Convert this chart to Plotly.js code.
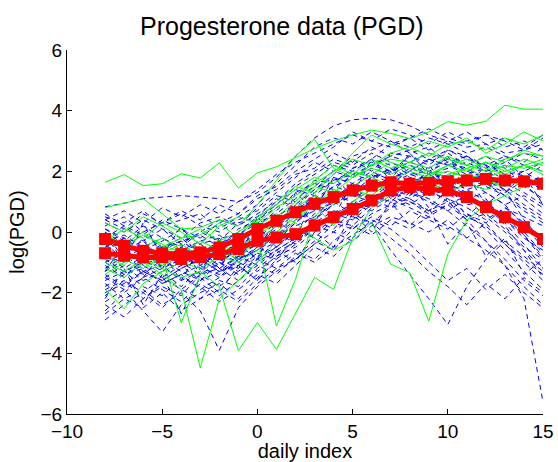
<!DOCTYPE html>
<html>
<head>
<meta charset="utf-8">
<script src="https://cdn.plot.ly/plotly-3.0.1.min.js"></script>
<style>html,body{margin:0;padding:0;background:#fff;}#chart{width:558px;height:462px;}</style>
</head>
<body>
<div id="chart"></div>
<script>
// daily index (x values)
const days = [-8,-7,-6,-5,-4,-3,-2,-1,0,1,2,3,4,5,6,7,8,9,10,11,12,13,14,15];

// nonconceptive cycles (blue dashed), log(PGD)
const blue01 = [0.83,0.95,1.1,1.15,1.2,1.15,1.1,1.0,1.3,1.8,2.5,3.1,3.5,3.7,3.75,3.7,3.5,3.2,3.0,2.8,2.9,2.6,2.7,2.9];
const blue02 = [0.5,0.3,0.7,0.2,0.4,0.6,0.1,0.5,0.9,1.6,2.2,2.8,3.1,2.9,3.3,3.0,2.6,2.8,2.3,2.5,2.1,2.4,1.8,2.2];
const blue03 = [-0.2,-0.6,-0.3,-0.9,-0.5,-0.8,-0.4,-0.1,0.4,0.9,1.5,1.9,2.3,2.1,2.4,2.2,1.9,2.0,1.6,1.2,0.8,0.3,-0.4,-1.2];
const blue04 = [-1.5,-1.1,-1.6,-1.3,-1.8,-1.2,-1.4,-0.9,-0.6,-0.2,0.3,0.8,1.2,1.0,1.4,1.6,1.3,1.1,0.7,0.2,-0.3,-0.9,-1.6,-2.1];
const blue05 = [-2.9,-2.4,-2.0,-2.5,-1.9,-2.2,-1.6,-1.8,-1.2,-0.7,-0.3,0.2,0.6,0.9,0.7,1.1,0.8,0.5,0.9,0.4,0.6,0.1,-0.5,-0.9];
const blue06 = [-0.8,-1.0,-0.6,-1.2,-0.9,-0.7,-1.1,-0.5,-0.3,0.2,0.6,1.3,1.7,1.9,2.2,2.0,2.3,2.1,2.4,2.0,1.8,1.5,1.1,0.6];
const blue07 = [0.1,-0.3,0.2,-0.2,-0.5,0.0,-0.3,0.3,0.5,1.1,0.8,1.4,1.9,2.4,2.0,2.6,2.5,2.2,2.7,2.4,2.2,1.9,2.0,1.6];
const blue08 = [-1.9,-1.6,-2.2,-1.7,-1.4,-1.9,-1.5,-1.1,-1.6,-0.9,-0.4,0.1,0.5,1.0,0.8,1.3,1.5,1.2,1.4,0.9,1.0,0.4,-0.2,-0.6];
const blue09 = [0.6,0.2,-0.1,0.4,0.1,-0.2,0.3,0.6,1.1,1.4,1.9,2.1,2.6,2.3,2.8,2.5,2.7,2.4,2.2,2.5,2.0,2.3,2.6,2.4];
const blue10 = [-1.2,-0.8,-1.4,-0.9,-1.3,-1.6,-1.0,-1.3,-0.8,-0.5,0.1,-0.2,0.4,0.9,1.2,1.0,1.5,1.7,1.3,1.6,1.4,1.8,1.5,1.9];
const blue11 = [-0.4,-0.9,-0.5,-0.7,-1.1,-0.6,-0.8,-0.3,0.2,0.7,1.3,1.6,1.4,1.9,1.7,2.1,1.8,1.6,1.9,1.7,1.3,0.9,0.2,-0.5];
const blue12 = [-1.0,-1.4,-1.2,-1.7,-1.4,-1.1,-1.5,-0.9,-0.6,-0.1,0.4,0.7,1.0,0.6,0.3,-0.6,-1.4,-2.2,-3.05,-1.8,-0.9,-0.3,-0.8,-1.3];
const blue13 = [-0.6,-0.3,-0.8,-0.5,-0.2,-0.7,-0.4,0.0,0.5,0.9,1.4,1.2,1.7,2.0,1.8,2.1,1.6,1.4,1.0,0.4,-0.3,-1.1,-2.2,-5.6];
const blue14 = [-1.7,-2.2,-1.9,-2.4,-2.0,-2.6,-3.9,-2.5,-1.8,-1.3,-0.9,-0.4,0.3,0.1,0.6,0.9,1.1,0.7,1.0,0.5,0.2,-0.4,-1.0,-1.6];
const blue15 = [-2.3,-1.9,-2.6,-3.3,-2.4,-2.0,-1.7,-2.2,-1.5,-1.0,-0.6,-0.9,-0.3,0.2,-0.1,0.4,0.1,0.5,0.2,-0.2,0.3,-0.4,-0.9,-1.4];
const blue16 = [0.3,0.0,0.4,0.1,-0.2,0.3,0.5,0.2,0.8,1.3,1.8,2.3,2.0,2.5,2.7,3.0,2.8,3.1,2.9,2.6,2.8,2.5,2.2,2.0];
const blue17 = [-1.4,-1.8,-1.3,-1.1,-1.6,-1.3,-0.9,-1.2,-0.7,-0.9,-0.2,0.4,0.9,1.3,1.1,1.6,1.9,1.7,2.0,1.8,1.5,1.2,0.7,0.3];
const blue18 = [-0.9,-0.5,-1.1,-0.8,-0.6,-1.0,-0.7,-0.4,-0.9,-0.3,0.3,0.9,1.1,1.6,1.4,1.8,2.0,1.7,1.5,1.8,1.6,1.3,1.7,1.4];
const blue19 = [-2.6,-2.0,-1.5,-1.9,-2.3,-1.7,-2.1,-1.6,-1.1,-1.4,-0.8,-0.3,-0.6,0.1,0.5,0.2,0.7,0.4,0.1,0.6,0.3,0.8,0.5,0.2];
const blue20 = [0.2,0.5,0.0,0.3,0.6,0.2,0.0,0.4,0.7,1.2,1.0,1.7,2.2,2.0,2.4,2.9,3.1,2.7,3.0,3.3,2.9,3.1,2.8,3.2];
const blue21 = [-1.1,-1.5,-0.9,-1.3,-1.0,-1.4,-1.2,-1.6,-1.0,-0.6,-0.2,0.2,0.0,0.5,0.3,0.8,1.0,0.6,0.9,1.2,0.8,0.4,-0.1,-0.8];
const blue22 = [-0.3,-0.1,-0.5,-0.2,-0.6,-0.3,-0.1,-0.6,-0.2,0.3,0.7,1.1,1.5,1.3,1.8,2.0,2.2,1.9,2.1,2.3,2.0,2.2,1.8,1.5];
const blue23 = [-1.6,-1.3,-1.8,-2.1,-1.5,-1.8,-2.3,-1.9,-1.4,-1.7,-1.1,-0.5,-0.8,-0.2,0.4,0.1,-0.4,-1.0,-1.6,-1.2,-1.9,-1.4,-2.0,-2.5];
const blue24 = [0.0,-0.4,-0.1,-0.5,-0.3,-0.1,-0.5,0.1,0.4,0.8,1.2,1.7,1.6,2.1,2.3,2.0,2.5,2.3,2.6,2.2,2.5,2.1,1.6,1.0];
const blue25 = [-0.7,-1.2,-0.8,-0.4,-0.9,-0.5,-0.9,-0.7,-0.4,0.1,0.6,0.4,1.0,1.5,1.9,1.6,2.0,2.4,2.2,1.9,2.1,1.7,2.0,2.3];
const blue26 = [-2.0,-1.7,-1.3,-1.6,-1.2,-0.9,-1.3,-1.0,-1.3,-0.8,-0.5,0.0,0.4,0.2,0.8,1.2,0.9,1.3,1.1,0.6,0.1,-0.6,-1.3,-1.9];
const blue27 = [0.4,0.7,0.3,0.8,0.5,0.9,0.6,1.0,1.4,1.9,2.3,2.6,2.9,3.2,3.0,3.4,3.2,2.9,3.3,3.0,3.2,2.8,3.0,2.7];
const blue28 = [-1.3,-0.9,-0.6,-1.0,-0.7,-1.2,-0.6,-0.9,-0.5,0.0,-0.4,0.3,0.7,0.5,1.0,1.3,1.1,1.5,1.8,1.4,1.0,0.5,0.0,-0.7];
const blue29 = [-2.4,-2.8,-2.2,-1.8,-2.1,-1.4,-1.8,-1.3,-0.9,-1.2,-0.7,-1.0,-0.5,-0.1,0.3,-0.2,-0.7,-1.3,-1.8,-2.4,-1.7,-2.2,-1.5,-2.0];
const blue30 = [-0.5,-0.2,-0.7,-1.0,-0.6,-0.4,-0.8,-0.5,0.0,0.5,0.9,1.4,1.8,1.6,2.0,1.7,2.1,1.9,1.6,1.3,0.8,0.5,-0.1,-0.9];
const blue31 = [-0.9,-1.3,-1.0,-0.6,-1.1,-0.8,-1.2,-0.8,-0.4,0.2,0.8,1.0,1.5,1.8,2.1,1.9,2.2,2.0,2.3,2.1,1.7,1.4,0.9,0.5];
const blue32 = [-1.8,-1.4,-1.1,-1.5,-1.9,-1.4,-1.0,-1.4,-0.9,-0.5,0.0,0.6,1.0,1.3,1.6,1.4,1.2,1.6,1.4,1.1,1.3,0.9,1.2,0.8];
const blue33 = [0.1,-0.2,-0.6,-0.3,0.1,-0.4,-0.2,-0.1,0.3,0.6,1.1,1.5,2.0,1.8,2.2,2.5,2.3,2.6,2.4,2.0,2.3,1.9,1.5,1.1];
const blue34 = [-1.0,-0.7,-1.3,-1.6,-1.2,-0.9,-1.3,-1.1,-0.7,-0.3,0.2,0.5,0.9,1.2,1.0,1.4,1.6,1.9,1.5,1.7,1.9,1.6,1.3,0.9];
const blue35 = [-2.1,-1.6,-2.0,-1.5,-1.1,-1.6,-1.3,-0.8,-1.1,-0.6,-0.2,0.4,0.1,0.7,1.1,0.8,1.3,1.0,0.7,1.1,0.5,0.0,-0.6,-1.2];
const blue36 = [-0.2,0.2,-0.3,0.1,-0.4,0.0,0.4,0.2,0.6,1.0,1.6,2.0,2.4,2.2,2.6,2.3,2.0,2.4,2.7,2.5,2.2,2.5,2.3,2.8];
const blue37 = [-1.5,-1.9,-1.5,-1.2,-0.8,-1.1,-0.7,-1.0,-0.5,-0.8,-0.3,0.1,0.6,0.4,0.9,1.3,1.0,0.7,1.1,0.8,0.4,0.8,0.3,-0.2];
const blue38 = [-0.6,-0.2,-0.9,-0.6,-0.3,-0.7,-0.3,-0.6,0.1,0.4,0.7,1.2,1.0,1.6,1.3,1.7,1.5,2.0,1.7,1.4,1.6,1.2,0.8,0.4];
const blue39 = [-2.7,-2.2,-2.5,-2.0,-2.6,-2.2,-1.9,-2.3,-1.7,-1.2,-0.9,-0.4,0.0,-0.3,0.2,0.5,0.3,0.0,0.4,-0.2,-0.6,-1.1,-1.8,-2.4];
const blue40 = [0.4,0.1,0.6,0.3,0.7,0.4,0.9,0.6,1.2,1.5,2.0,2.4,2.8,3.3,3.0,2.8,3.1,3.4,3.1,2.9,3.2,3.0,2.7,3.1];
const blue41 = [-1.3,-0.4,-1.5,-0.7,-1.6,-0.5,-1.2,-0.3,-0.9,0.4,-0.1,1.0,0.5,1.6,0.9,2.0,1.2,2.2,1.5,1.9,0.9,1.4,0.4,-0.3];
const blue42 = [-0.1,-1.0,0.3,-0.8,0.2,-1.1,-0.2,-0.9,0.5,-0.2,1.3,0.7,1.8,1.2,2.4,1.7,2.6,1.9,2.5,1.5,2.2,1.3,1.9,0.9];
const blue43 = [-2.2,-1.2,-2.4,-1.4,-2.7,-1.5,-2.0,-1.1,-1.6,-0.6,-1.0,0.0,-0.5,0.6,0.0,1.0,0.2,0.8,-0.4,0.3,-0.8,-0.2,-1.4,-0.9];
const blue44 = [0.0,-0.9,-0.2,-1.2,-0.4,-1.4,-0.3,-1.0,0.2,-0.5,0.9,0.3,1.4,0.8,1.9,1.1,1.6,0.8,1.4,0.5,1.1,0.2,-0.6,-1.5];

// conceptive cycles (green solid), log(PGD)
const green01 = [1.64,1.89,1.53,1.59,1.92,1.78,2.28,1.45,1.95,2.15,2.45,2.75,3.0,3.2,3.36,3.25,3.08,3.3,3.64,3.52,3.65,4.18,4.05,4.05];
const green02 = [0.8,0.95,1.1,0.6,0.1,0.15,0.4,0.2,0.9,1.7,2.5,3.06,2.1,1.8,2.2,2.4,2.3,2.1,2.5,2.2,2.0,2.4,2.6,2.5];
const green03 = [-1.2,-1.5,-1.0,-1.4,-1.9,-4.48,-2.2,-1.6,-1.0,-0.3,0.4,0.9,0.2,1.0,1.4,1.6,1.5,1.9,2.0,1.8,1.9,2.2,2.1,2.3];
const green04 = [-1.0,-1.3,-0.9,-1.2,-1.5,-1.3,-1.8,-3.91,-2.99,-3.87,-2.66,-1.5,-1.89,-0.2,0.8,1.2,1.6,1.4,1.9,2.1,1.8,2.0,2.2,1.9];
const green05 = [-0.2,-0.5,-0.1,-0.4,-0.7,-0.3,-0.6,-0.9,-0.2,-3.1,-1.56,0.5,1.1,1.4,1.2,1.7,2.0,1.8,2.2,2.0,2.3,2.1,2.4,2.2];
const green06 = [-0.6,-0.9,-1.2,-0.8,-2.99,-1.4,-0.7,-0.5,-0.1,0.3,0.9,1.5,1.3,1.8,2.1,1.9,2.2,2.0,1.8,2.1,2.3,2.0,2.2,2.4];
const green07 = [-1.89,-2.53,-1.7,-1.3,-1.0,-1.2,-0.8,-1.0,-0.6,0.0,0.5,0.9,1.4,1.2,1.6,1.4,1.7,1.5,1.3,1.6,1.4,1.7,1.5,1.8];
const green08 = [-0.9,-0.6,-1.0,-0.7,-0.4,-0.8,-0.5,-0.2,0.2,0.6,0.3,-0.2,-0.6,-0.3,0.33,-1.06,-1.34,-2.94,-0.73,0.4,0.9,1.2,1.5,1.6];
const green09 = [-0.3,0.1,-0.2,0.3,0.0,-0.4,0.2,0.5,0.3,0.8,1.2,1.6,2.0,2.4,2.2,2.6,2.8,2.5,2.9,3.0,2.7,3.1,2.9,3.2];
const green10 = [-1.4,-1.0,-0.7,-1.1,-0.8,-0.5,-0.9,-0.4,0.1,0.5,1.0,1.7,2.2,1.9,2.4,2.1,2.3,2.6,2.4,2.2,2.5,2.3,2.7,2.5];
const green11 = [0.3,0.0,0.5,0.2,-0.2,0.1,-0.3,0.0,0.4,1.0,1.5,1.3,1.9,2.6,3.2,2.9,2.7,3.0,2.8,3.1,2.6,2.9,3.3,3.0];
const green12 = [-0.8,-1.1,-0.5,-0.2,-0.6,-0.9,-0.4,-0.7,-0.3,0.2,0.8,1.2,0.9,1.5,1.9,2.3,2.1,1.9,2.2,2.4,2.1,1.9,2.2,2.0];
const green13 = [-0.1,-0.4,0.0,-0.5,-0.2,-0.1,0.3,-0.2,0.5,0.9,1.4,1.8,1.6,2.0,1.8,1.5,1.7,1.4,1.6,1.9,1.7,1.5,1.8,1.6];

// group means (red, squares)
const meanA = [-0.23,-0.45,-0.62,-0.70,-0.73,-0.67,-0.51,-0.23,0.10,0.37,0.65,0.93,1.15,1.37,1.53,1.64,1.59,1.62,1.67,1.70,1.75,1.70,1.67,1.59];
const meanB = [-0.70,-0.78,-0.84,-0.83,-0.89,-0.83,-0.73,-0.56,-0.29,-0.18,-0.07,0.21,0.49,0.76,1.04,1.37,1.48,1.40,1.37,1.15,0.82,0.49,0.16,-0.23];

const xTicks = [-10,-5,0,5,10,15];
const yTicks = [-6,-4,-2,0,2,4,6];

const blueSeries = [blue01,blue02,blue03,blue04,blue05,blue06,blue07,blue08,blue09,blue10,
  blue11,blue12,blue13,blue14,blue15,blue16,blue17,blue18,blue19,blue20,
  blue21,blue22,blue23,blue24,blue25,blue26,blue27,blue28,blue29,blue30,
  blue31,blue32,blue33,blue34,blue35,blue36,blue37,blue38,blue39,blue40,
  blue41,blue42,blue43,blue44];
const greenSeries = [green01,green02,green03,green04,green05,green06,green07,green08,green09,green10,green11,green12,green13];

const traces = [];
blueSeries.forEach(ys => traces.push({
  x: days, y: ys, type: 'scatter', mode: 'lines', hoverinfo: 'skip',
  line: {color: '#0000ff', width: 1, dash: '5px,4px'}
}));
greenSeries.forEach(ys => traces.push({
  x: days, y: ys, type: 'scatter', mode: 'lines', hoverinfo: 'skip',
  line: {color: '#00ff00', width: 1}
}));
[meanA, meanB].forEach(ys => traces.push({
  x: days, y: ys, type: 'scatter', mode: 'lines+markers',
  line: {color: '#ff0000', width: 5},
  marker: {symbol: 'square', size: 12, color: '#ff0000'}
}));

const fontFam = '"Liberation Sans", Arial, Helvetica, sans-serif';
const layout = {
  width: 558, height: 462,
  margin: {l: 67, r: 15, t: 50, b: 48},
  paper_bgcolor: '#ffffff', plot_bgcolor: '#ffffff',
  showlegend: false,
  font: {family: fontFam, color: '#000000', size: 19},
  title: {text: 'Progesterone data (PGD)', font: {size: 25, family: fontFam, color: '#000'},
          xref: 'container', x: 0.505, xanchor: 'center', yref: 'container', y: 0.925, yanchor: 'bottom'},
  xaxis: {
    range: [-10, 15], tickvals: xTicks, ticks: 'inside', ticklen: 5, tickcolor: '#000',
    showline: true, linecolor: '#000', linewidth: 1, mirror: false,
    showgrid: false, zeroline: false, tickfont: {size: 19},
    title: {text: 'daily index', font: {size: 20}, standoff: 4}
  },
  yaxis: {
    range: [-6, 6], tickvals: yTicks, ticks: 'inside', ticklen: 5, tickcolor: '#000',
    showline: true, linecolor: '#000', linewidth: 1, mirror: false,
    showgrid: false, zeroline: false, tickfont: {size: 19},
    title: {text: 'log(PGD)', font: {size: 20}, standoff: 10}
  }
};
Plotly.newPlot('chart', traces, layout, {staticPlot: true, displayModeBar: false});
</script>
</body>
</html>
